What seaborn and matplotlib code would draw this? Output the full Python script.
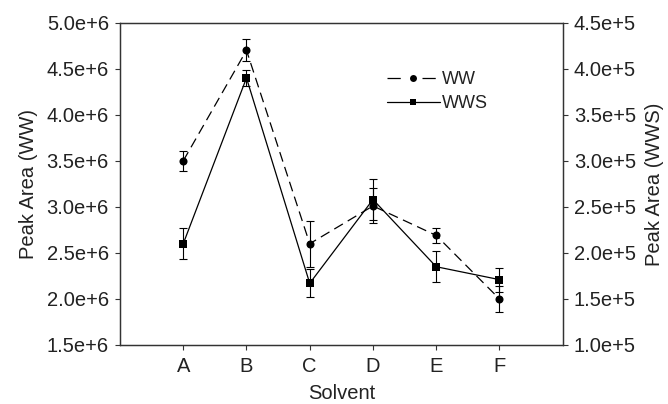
import matplotlib
matplotlib.use("Agg")
import matplotlib.pyplot as plt
import seaborn as sns
import pandas as pd
from matplotlib.lines import Line2D

solvents = ["A", "B", "C", "D", "E", "F"]
ww_values = [3.50e6, 4.70e6, 2.60e6, 3.01e6, 2.69e6, 2.00e6]
ww_errors = [0.11e6, 0.12e6, 0.25e6, 0.19e6, 0.08e6, 0.14e6]
wws_values = [2.10e5, 3.90e5, 1.67e5, 2.58e5, 1.85e5, 1.71e5]
wws_errors = [0.17e5, 0.09e5, 0.15e5, 0.22e5, 0.17e5, 0.13e5]
left_ticks = [1.5e6, 2.0e6, 2.5e6, 3.0e6, 3.5e6, 4.0e6, 4.5e6, 5.0e6]
left_labels = ["1.5e+6", "2.0e+6", "2.5e+6", "3.0e+6", "3.5e+6", "4.0e+6", "4.5e+6", "5.0e+6"]
right_ticks = [1.0e5, 1.5e5, 2.0e5, 2.5e5, 3.0e5, 3.5e5, 4.0e5, 4.5e5]
right_labels = ["1.0e+5", "1.5e+5", "2.0e+5", "2.5e+5", "3.0e+5", "3.5e+5", "4.0e+5", "4.5e+5"]

sns.set_style("ticks")
plt.rcParams["font.family"] = ["Liberation Sans", "DejaVu Sans"]
plt.rcParams["font.size"] = 14
txt = "#222222"
spine = "#333333"
FS = 14.5

df_ww = pd.DataFrame({"Solvent": solvents, "val": ww_values, "err": ww_errors})
df_wws = pd.DataFrame({"Solvent": solvents, "val": wws_values, "err": wws_errors})

fig = plt.figure(figsize=(6.68, 4.04), dpi=100)
ax = fig.add_axes([120 / 668, 1 - 345 / 404, (562.7 - 120) / 668, (345 - 22.7) / 404])
ax2 = ax.twinx()

sns.lineplot(data=df_ww, x="Solvent", y="val", ax=ax, color="black", linewidth=0.9,
             linestyle=(0, (8, 4.5)), marker="o", markersize=5.8, markeredgewidth=0,
             sort=False, errorbar=None)
ax.errorbar(df_ww["Solvent"], df_ww["val"], yerr=df_ww["err"], fmt="none",
            ecolor="black", elinewidth=0.8, capsize=3.2, capthick=0.8)

sns.lineplot(data=df_wws, x="Solvent", y="val", ax=ax2, color="black", linewidth=0.9,
             linestyle="-", marker="s", markersize=5.4, markeredgewidth=0,
             sort=False, errorbar=None)
ax2.errorbar(df_wws["Solvent"], df_wws["val"], yerr=df_wws["err"], fmt="none",
             ecolor="black", elinewidth=0.8, capsize=3.2, capthick=0.8)

ax.set_xlim(-1, 6)
ax.set_ylim(1.5e6, 5.0e6)
ax2.set_ylim(1.0e5, 4.5e5)
ax.set_yticks(left_ticks)
ax.set_yticklabels(left_labels)
ax2.set_yticks(right_ticks)
ax2.set_yticklabels(right_labels)

ax.set_xlabel("Solvent", color=txt, fontsize=FS, labelpad=5.5)
ax.set_ylabel("Peak Area (WW)", color=txt, fontsize=FS, labelpad=6)
ax2.set_ylabel("Peak Area (WWS)", color=txt, fontsize=FS, labelpad=6.5)

for a in (ax, ax2):
    a.tick_params(direction="out", length=3.5, width=0.8, colors=spine, labelcolor=txt,
                  labelsize=FS)
    a.tick_params(axis="y", pad=4.5)
    for s in a.spines.values():
        s.set_visible(True)
        s.set_color(spine)
        s.set_linewidth(0.9)
ax.tick_params(axis="x", pad=5.5)
ax.tick_params(top=False, right=False)
ax2.tick_params(left=False)

handles = [
    Line2D([], [], color="black", linewidth=0.9, linestyle=(0, (10.6, 17.4)), marker="o",
           markersize=5, markeredgewidth=0),
    Line2D([], [], color="black", linewidth=0.9, linestyle="-", marker="s",
           markersize=4.8, markeredgewidth=0),
]
ax2.legend(handles, ["WW", "WWS"], loc="upper left", bbox_to_anchor=(0.602, 0.85),
           frameon=False, borderpad=0, borderaxespad=0, handlelength=2.94,
           handletextpad=0.12, labelspacing=0.4, fontsize=13, labelcolor=txt)

fig.savefig("out.png", dpi=100)
